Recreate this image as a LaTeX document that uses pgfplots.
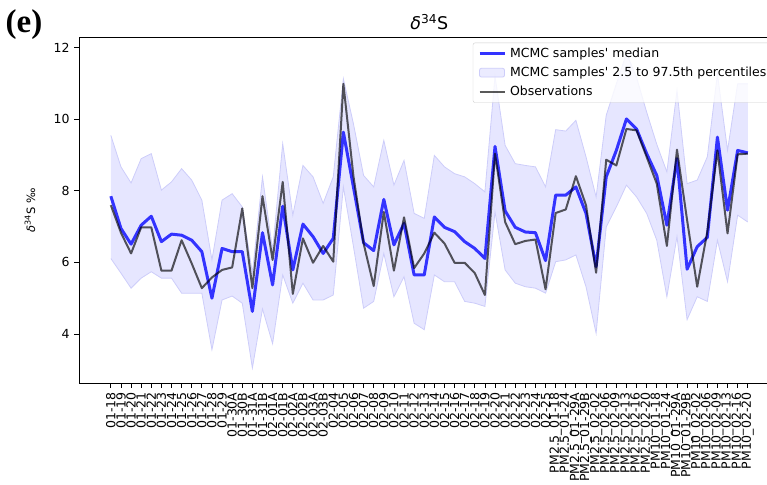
\documentclass[border=0pt]{standalone}
\usepackage{fontspec}
\setmainfont{DejaVu Sans}
\newfontfamily\serifbold{Liberation Serif}
\usepackage{pgfplots}
\usepackage{pgfplotstable}
\usepgfplotslibrary{fillbetween}
\pgfplotsset{compat=1.18}
\definecolor{medblue}{RGB}{51,51,255}
\definecolor{bandfill}{RGB}{230,230,255}
\definecolor{bandedge}{RGB}{205,205,250}
\newcommand{\fs}[1]{\fontsize{#1}{#1}\selectfont}

\pgfplotstableread{
i med obs lo hi
0 7.85 7.60 6.11 9.55
1 6.95 6.83 5.70 8.67
2 6.51 6.25 5.28 8.22
3 7.04 6.98 5.56 8.90
4 7.29 6.98 5.74 9.04
5 6.58 5.77 5.56 8.02
6 6.79 5.77 5.56 8.25
7 6.76 6.62 5.14 8.62
8 6.62 5.97 5.14 8.30
9 6.30 5.28 5.14 7.74
10 5.00 5.58 3.56 6.07
11 6.39 5.79 4.95 7.74
12 6.30 5.86 5.06 7.92
13 6.30 7.51 4.86 7.55
14 4.63 5.28 3.05 5.70
15 6.83 7.85 4.70 8.39
16 5.37 6.07 3.73 6.35
17 7.57 8.25 5.65 9.32
18 5.79 5.12 4.86 7.32
19 7.07 6.67 5.42 8.71
20 6.72 5.99 4.95 8.39
21 6.25 6.46 4.95 7.65
22 6.67 6.02 5.09 8.39
23 9.64 10.99 8.11 11.13
24 8.10 8.40 6.44 9.87
25 6.55 6.53 4.72 8.43
26 6.33 5.34 4.91 8.11
27 7.76 7.41 6.25 9.41
28 6.49 5.77 5.04 8.16
29 7.09 7.26 5.60 8.85
30 5.65 5.84 4.30 7.37
31 5.65 6.25 4.12 7.23
32 7.27 6.83 5.65 8.99
33 6.98 6.53 5.46 8.67
34 6.86 5.99 5.46 8.48
35 6.58 5.99 4.91 8.39
36 6.39 5.70 4.86 8.20
37 6.11 5.09 4.77 7.97
38 9.24 9.04 7.41 11.20
39 7.44 7.13 5.79 9.27
40 6.98 6.51 5.42 8.76
41 6.85 6.60 5.32 8.71
42 6.83 6.64 5.28 8.67
43 6.05 5.25 5.14 8.11
44 7.88 7.38 6.02 9.71
45 7.88 7.48 6.07 9.67
46 8.11 8.41 6.21 9.97
47 7.37 7.60 5.32 8.95
48 5.88 5.71 4.02 7.83
49 8.39 8.87 6.99 10.11
50 9.13 8.71 7.55 10.99
51 10.01 9.73 8.16 11.84
52 9.73 9.69 7.83 11.17
53 9.04 8.95 7.37 10.20
54 8.43 8.20 6.62 9.30
55 7.04 6.46 5.04 8.53
56 8.90 9.15 6.72 10.80
57 5.81 7.18 4.40 8.20
58 6.44 5.32 5.04 8.30
59 6.70 6.86 4.91 8.95
60 9.50 9.13 6.62 11.27
61 7.46 6.81 5.46 9.13
62 9.13 9.02 7.32 10.99
63 9.06 9.04 7.13 10.99
}\data

\begin{document}
\begin{tikzpicture}
\begin{axis}[
  name=ax,
  scale only axis, width=700.6pt, height=345.3pt,
  xmin=-3.15, xmax=66.15, ymin=2.63, ymax=12.28,
  xtick={0,...,63},
  xticklabels={01-18,01-19,01-20,01-21,01-22,01-23,01-24,01-25,01-26,01-27,01-28,01-29,01-30A,01-30B,01-31A,01-31B,02-01A,02-01B,02-02A,02-02B,02-03A,02-03B,02-04,02-05,02-06,02-07,02-08,02-09,02-10,02-11,02-12,02-13,02-14,02-15,02-16,02-17,02-18,02-19,02-20,02-21,02-22,02-23,02-24,02-25,PM2.5\_01-18,PM2.5\_01-24,PM2.5\_01-29A,PM2.5\_01-29B,PM2.5\_02-02,PM2.5\_02-06,PM2.5\_02-09,PM2.5\_02-13,PM2.5\_02-16,PM2.5\_02-20,PM10\_01-18,PM10\_01-24,PM10\_01-29A,PM10\_01-29B,PM10\_02-02,PM10\_02-06,PM10\_02-09,PM10\_02-13,PM10\_02-16,PM10\_02-20},
  xticklabel style={rotate=90, anchor=east, font=\fs{12.5}, inner sep=0pt, xshift=-4.5pt},
  ytick={4,6,8,10,12},
  yticklabel style={font=\fs{12.5}, inner sep=0pt, xshift=-4.5pt},
  /pgf/number format/assume math mode=true,
  tick align=outside, major tick length=4.8pt,
  xtick pos=bottom, ytick pos=left,
  tick style={black, line width=0.8pt},
  axis line style={line width=0.8pt},
  legend cell align=left,
  legend style={at={(1,1)}, xshift=-6pt, yshift=-5pt, anchor=north east,
    font=\fs{12.5}, draw=black!20, rounded corners=2pt, fill=white, fill opacity=0.8, text opacity=1,
    inner xsep=5pt, inner ysep=3pt, row sep=4.3pt,
    /tikz/every odd column/.append style={column sep=2pt},
    /tikz/every even column/.append style={column sep=0pt}},
]
\addplot[name path=hi, draw=bandedge, line width=0.8pt, forget plot] table[x=i, y=hi] {\data};
\addplot[name path=lo, draw=bandedge, line width=0.8pt, forget plot] table[x=i, y=lo] {\data};
\addplot[fill=bandfill, draw=none, forget plot] fill between[of=hi and lo];
\addplot[draw=medblue, line width=3pt, forget plot, line join=round] table[x=i, y=med] {\data};
\addplot[draw=black, opacity=0.65, line width=2pt, forget plot, line join=round] table[x=i, y=obs] {\data};

\addlegendimage{legend image code/.code={\draw[medblue, line width=3pt] (0pt,0pt) -- (25pt,0pt);}}
\addlegendentry{MCMC samples\textquotesingle\ median}
\addlegendimage{legend image code/.code={\draw[fill=bandfill, draw=bandedge, line width=0.8pt] (0pt,-4.4pt) rectangle (25pt,4.4pt);}}
\addlegendentry{MCMC samples\textquotesingle\ 2.5 to 97.5th percentiles}
\addlegendimage{legend image code/.code={\draw[black, opacity=0.65, line width=2pt] (0pt,0pt) -- (25pt,0pt);}}
\addlegendentry{Observations}
\end{axis}
\node[anchor=base, font=\fs{17.5}] at ([yshift=8pt]ax.north) {\textit{δ}\textsuperscript{34}S};
\node[anchor=center, rotate=90, font=\fs{11.5}] at ([xshift=-49pt]ax.west) {\textit{δ}\textsuperscript{34}S ‰};
\node[anchor=center, font=\fs{33}\serifbold\bfseries] at ([xshift=-55pt, yshift=13pt]ax.north west) {(e)};
\pgfresetboundingbox
\path[use as bounding box] ([xshift=-79pt,yshift=-102pt]ax.south west) rectangle ([xshift=-12.6pt,yshift=37.7pt]ax.north east);
\end{tikzpicture}
\end{document}
